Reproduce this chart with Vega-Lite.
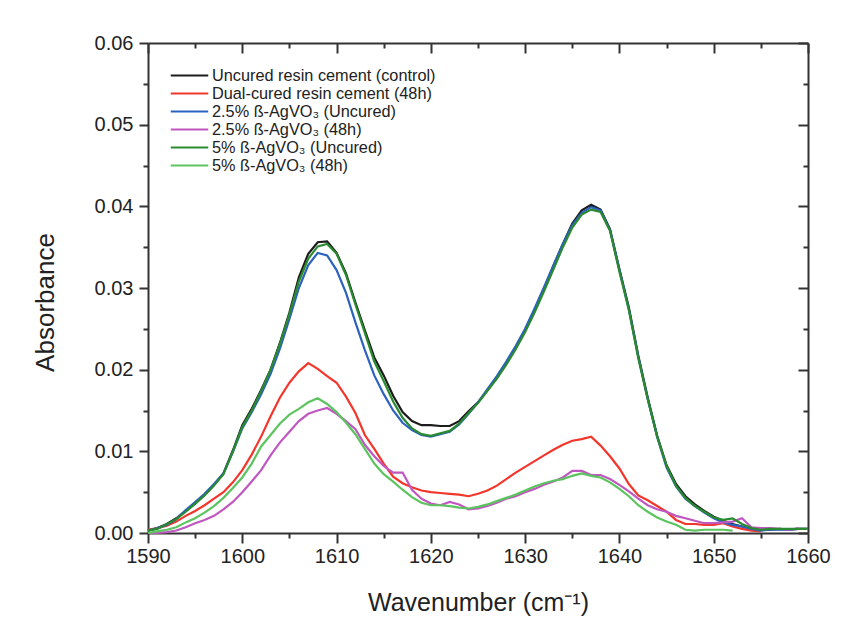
{
  "$schema": "https://vega.github.io/schema/vega-lite/v6.json",
  "width": 660,
  "height": 490,
  "autosize": {"type": "none"},
  "padding": {"left": 148, "top": 43, "right": 58, "bottom": 96},
  "background": "white",
  "config": {
    "view": {"stroke": null},
    "font": "Liberation Sans",
    "axis": {"grid": false, "labelFlush": false, "domainColor": "#333", "domainWidth": 2, "tickColor": "#333", "tickWidth": 2, "labelColor": "#222", "titleColor": "#222", "labelFont": "Liberation Sans", "titleFont": "Liberation Sans", "titleFontWeight": "normal"},
    "legend": {"labelFont": "Liberation Sans"}
  },
  "data": {"values": [
    {"w":1590,"k":0.0003,"r":0.0004,"b":0.0003,"m":0.0000,"g":0.0003,"l":0.0000},
    {"w":1591,"k":0.0006,"r":0.0006,"b":0.0006,"m":0.0000,"g":0.0005,"l":0.0002},
    {"w":1592,"k":0.0011,"r":0.0009,"b":0.0010,"m":0.0001,"g":0.0011,"l":0.0004},
    {"w":1593,"k":0.0018,"r":0.0014,"b":0.0017,"m":0.0003,"g":0.0017,"l":0.0007},
    {"w":1594,"k":0.0027,"r":0.0021,"b":0.0028,"m":0.0007,"g":0.0026,"l":0.0013},
    {"w":1595,"k":0.0036,"r":0.0027,"b":0.0038,"m":0.0012,"g":0.0036,"l":0.0018},
    {"w":1596,"k":0.0047,"r":0.0034,"b":0.0048,"m":0.0016,"g":0.0046,"l":0.0025},
    {"w":1597,"k":0.0059,"r":0.0042,"b":0.0060,"m":0.0021,"g":0.0058,"l":0.0033},
    {"w":1598,"k":0.0073,"r":0.0050,"b":0.0073,"m":0.0029,"g":0.0072,"l":0.0043},
    {"w":1599,"k":0.0101,"r":0.0062,"b":0.0099,"m":0.0038,"g":0.0100,"l":0.0055},
    {"w":1600,"k":0.0132,"r":0.0077,"b":0.0128,"m":0.0050,"g":0.0130,"l":0.0068},
    {"w":1601,"k":0.0152,"r":0.0096,"b":0.0148,"m":0.0063,"g":0.0150,"l":0.0085},
    {"w":1602,"k":0.0175,"r":0.0118,"b":0.0170,"m":0.0077,"g":0.0174,"l":0.0106},
    {"w":1603,"k":0.0200,"r":0.0143,"b":0.0195,"m":0.0095,"g":0.0200,"l":0.0120},
    {"w":1604,"k":0.0233,"r":0.0166,"b":0.0226,"m":0.0111,"g":0.0232,"l":0.0134},
    {"w":1605,"k":0.0270,"r":0.0184,"b":0.0262,"m":0.0124,"g":0.0268,"l":0.0145},
    {"w":1606,"k":0.0313,"r":0.0198,"b":0.0300,"m":0.0137,"g":0.0308,"l":0.0152},
    {"w":1607,"k":0.0342,"r":0.0208,"b":0.0328,"m":0.0146,"g":0.0336,"l":0.0160},
    {"w":1608,"k":0.0356,"r":0.0201,"b":0.0343,"m":0.0150,"g":0.0351,"l":0.0165},
    {"w":1609,"k":0.0357,"r":0.0192,"b":0.0340,"m":0.0153,"g":0.0354,"l":0.0158},
    {"w":1610,"k":0.0343,"r":0.0184,"b":0.0322,"m":0.0146,"g":0.0342,"l":0.0148},
    {"w":1611,"k":0.0318,"r":0.0167,"b":0.0294,"m":0.0137,"g":0.0316,"l":0.0135},
    {"w":1612,"k":0.0282,"r":0.0147,"b":0.0258,"m":0.0127,"g":0.0280,"l":0.0121},
    {"w":1613,"k":0.0248,"r":0.0120,"b":0.0224,"m":0.0108,"g":0.0245,"l":0.0103},
    {"w":1614,"k":0.0215,"r":0.0103,"b":0.0193,"m":0.0094,"g":0.0210,"l":0.0085},
    {"w":1615,"k":0.0193,"r":0.0085,"b":0.0170,"m":0.0082,"g":0.0186,"l":0.0072},
    {"w":1616,"k":0.0168,"r":0.0069,"b":0.0150,"m":0.0074,"g":0.0161,"l":0.0063},
    {"w":1617,"k":0.0148,"r":0.0061,"b":0.0135,"m":0.0074,"g":0.0141,"l":0.0053},
    {"w":1618,"k":0.0137,"r":0.0056,"b":0.0126,"m":0.0053,"g":0.0128,"l":0.0044},
    {"w":1619,"k":0.0132,"r":0.0052,"b":0.0120,"m":0.0042,"g":0.0121,"l":0.0037},
    {"w":1620,"k":0.0132,"r":0.0050,"b":0.0118,"m":0.0036,"g":0.0119,"l":0.0034},
    {"w":1621,"k":0.0131,"r":0.0049,"b":0.0121,"m":0.0034,"g":0.0122,"l":0.0034},
    {"w":1622,"k":0.0131,"r":0.0048,"b":0.0124,"m":0.0038,"g":0.0125,"l":0.0033},
    {"w":1623,"k":0.0137,"r":0.0047,"b":0.0133,"m":0.0035,"g":0.0134,"l":0.0031},
    {"w":1624,"k":0.0149,"r":0.0045,"b":0.0146,"m":0.0029,"g":0.0147,"l":0.0030},
    {"w":1625,"k":0.0160,"r":0.0048,"b":0.0160,"m":0.0030,"g":0.0159,"l":0.0032},
    {"w":1626,"k":0.0175,"r":0.0052,"b":0.0176,"m":0.0033,"g":0.0174,"l":0.0035},
    {"w":1627,"k":0.0190,"r":0.0058,"b":0.0192,"m":0.0037,"g":0.0189,"l":0.0039},
    {"w":1628,"k":0.0208,"r":0.0066,"b":0.0210,"m":0.0042,"g":0.0206,"l":0.0043},
    {"w":1629,"k":0.0227,"r":0.0074,"b":0.0229,"m":0.0045,"g":0.0225,"l":0.0047},
    {"w":1630,"k":0.0249,"r":0.0081,"b":0.0250,"m":0.0050,"g":0.0246,"l":0.0052},
    {"w":1631,"k":0.0273,"r":0.0088,"b":0.0275,"m":0.0054,"g":0.0270,"l":0.0057},
    {"w":1632,"k":0.0299,"r":0.0095,"b":0.0301,"m":0.0059,"g":0.0296,"l":0.0061},
    {"w":1633,"k":0.0327,"r":0.0102,"b":0.0328,"m":0.0063,"g":0.0323,"l":0.0064},
    {"w":1634,"k":0.0354,"r":0.0108,"b":0.0354,"m":0.0068,"g":0.0350,"l":0.0066},
    {"w":1635,"k":0.0379,"r":0.0113,"b":0.0377,"m":0.0076,"g":0.0374,"l":0.0070},
    {"w":1636,"k":0.0395,"r":0.0115,"b":0.0392,"m":0.0076,"g":0.0390,"l":0.0073},
    {"w":1637,"k":0.0402,"r":0.0118,"b":0.0399,"m":0.0071,"g":0.0396,"l":0.0070},
    {"w":1638,"k":0.0396,"r":0.0107,"b":0.0395,"m":0.0071,"g":0.0393,"l":0.0068},
    {"w":1639,"k":0.0372,"r":0.0094,"b":0.0371,"m":0.0066,"g":0.0370,"l":0.0062},
    {"w":1640,"k":0.0323,"r":0.0079,"b":0.0322,"m":0.0059,"g":0.0320,"l":0.0054},
    {"w":1641,"k":0.0276,"r":0.0060,"b":0.0274,"m":0.0051,"g":0.0273,"l":0.0045},
    {"w":1642,"k":0.0217,"r":0.0046,"b":0.0216,"m":0.0042,"g":0.0214,"l":0.0034},
    {"w":1643,"k":0.0166,"r":0.0040,"b":0.0164,"m":0.0034,"g":0.0164,"l":0.0026},
    {"w":1644,"k":0.0119,"r":0.0033,"b":0.0118,"m":0.0029,"g":0.0118,"l":0.0019},
    {"w":1645,"k":0.0083,"r":0.0026,"b":0.0080,"m":0.0026,"g":0.0082,"l":0.0014},
    {"w":1646,"k":0.0060,"r":0.0016,"b":0.0057,"m":0.0021,"g":0.0058,"l":0.0010},
    {"w":1647,"k":0.0045,"r":0.0011,"b":0.0042,"m":0.0018,"g":0.0043,"l":0.0004},
    {"w":1648,"k":0.0035,"r":0.0011,"b":0.0033,"m":0.0015,"g":0.0033,"l":0.0003},
    {"w":1649,"k":0.0027,"r":0.0010,"b":0.0025,"m":0.0012,"g":0.0026,"l":0.0004},
    {"w":1650,"k":0.0020,"r":0.0010,"b":0.0018,"m":0.0012,"g":0.0019,"l":0.0004},
    {"w":1651,"k":0.0015,"r":0.0012,"b":0.0013,"m":0.0013,"g":0.0016,"l":0.0004},
    {"w":1652,"k":0.0011,"r":0.0008,"b":0.0010,"m":0.0014,"g":0.0018,"l":0.0003},
    {"w":1653,"k":0.0008,"r":0.0005,"b":0.0008,"m":0.0018,"g":0.0011},
    {"w":1654,"k":0.0005,"r":0.0003,"b":0.0005,"m":0.0007,"g":0.0006},
    {"w":1655,"k":0.0004,"r":0.0002,"b":0.0003,"m":0.0006,"g":0.0004},
    {"w":1656,"k":0.0004,"b":0.0004,"m":0.0006,"g":0.0005},
    {"w":1657,"k":0.0005,"b":0.0004,"m":0.0005,"g":0.0005},
    {"w":1658,"k":0.0004,"b":0.0004,"m":0.0004,"g":0.0005},
    {"w":1659,"k":0.0005,"b":0.0005,"m":0.0006,"g":0.0005},
    {"w":1660,"k":0.0005,"b":0.0005,"g":0.0005}
  ]},
  "transform": [{"fold": ["k", "r", "b", "m", "g", "l"], "as": ["s", "a"]}],
  "layer": [
    {
      "mark": {"type": "line", "strokeWidth": 2.2},
      "encoding": {
        "x": {"field": "w", "type": "quantitative", "scale": {"domain": [1590, 1660], "nice": false, "zero": false},
          "axis": {"orient": "bottom", "values": [1590, 1600, 1610, 1620, 1630, 1640, 1650, 1660], "format": "d", "tickSize": 10, "labelPadding": 3, "labelFontSize": 20, "title": "Wavenumber (cm⁻¹)", "titleFontSize": 25, "titlePadding": 24}},
        "y": {"field": "a", "type": "quantitative", "scale": {"domain": [0, 0.06], "nice": false, "zero": false},
          "axis": {"orient": "left", "values": [0, 0.01, 0.02, 0.03, 0.04, 0.05, 0.06], "format": ".2f", "tickSize": 9, "labelPadding": 6, "labelFontSize": 20, "title": "Absorbance", "titleFontSize": 26, "titlePadding": 36, "titleY": 259}},
        "color": {"field": "s", "type": "nominal",
          "scale": {"domain": ["k", "r", "b", "m", "g", "l"], "range": ["#1c1c1c", "#f2362b", "#2c62bf", "#c057c0", "#2a8a30", "#5cc45e"]},
          "legend": {"orient": "none", "legendX": 33, "legendY": 24, "title": null, "padding": 0,
            "symbolType": "M-2.5,0H2.5", "symbolSize": 225, "symbolStrokeWidth": 2,
            "labelFontSize": 16.3, "labelOffset": 14, "rowPadding": 1, "labelColor": "#222", "labelLimit": 500,
            "labelExpr": "datum.value == 'k' ? 'Uncured resin cement (control)' : datum.value == 'r' ? 'Dual-cured resin cement (48h)' : datum.value == 'b' ? '2.5% ß-AgVO₃ (Uncured)' : datum.value == 'm' ? '2.5% ß-AgVO₃ (48h)' : datum.value == 'g' ? '5% ß-AgVO₃ (Uncured)' : '5% ß-AgVO₃ (48h)'"}}
      }
    },
    {
      "mark": {"type": "line", "strokeOpacity": 0},
      "encoding": {
        "x": {"field": "w", "type": "quantitative", "scale": {"domain": [1590, 1660], "nice": false, "zero": false}, "axis": {"orient": "bottom", "values": [1595, 1605, 1615, 1625, 1635, 1645, 1655], "tickSize": 5, "labels": false, "domain": false, "title": null}},
        "y": {"field": "a", "type": "quantitative", "scale": {"domain": [0, 0.06], "nice": false, "zero": false}, "axis": {"orient": "left", "values": [0.005, 0.015, 0.025, 0.035, 0.045, 0.055], "tickSize": 5, "labels": false, "domain": false, "title": null}}
      }
    },
    {
      "mark": {"type": "line", "strokeOpacity": 0},
      "encoding": {
        "x": {"field": "w", "type": "quantitative", "scale": {"domain": [1590, 1660], "nice": false, "zero": false}, "axis": {"orient": "top", "values": [1590, 1600, 1610, 1620, 1630, 1640, 1650, 1660], "tickSize": -10, "labels": false, "title": null}},
        "y": {"field": "a", "type": "quantitative", "scale": {"domain": [0, 0.06], "nice": false, "zero": false}, "axis": {"orient": "right", "values": [0, 0.01, 0.02, 0.03, 0.04, 0.05, 0.06], "tickSize": -10, "labels": false, "title": null}}
      }
    },
    {
      "mark": {"type": "line", "strokeOpacity": 0},
      "encoding": {
        "x": {"field": "w", "type": "quantitative", "scale": {"domain": [1590, 1660], "nice": false, "zero": false}, "axis": {"orient": "top", "values": [1595, 1605, 1615, 1625, 1635, 1645, 1655], "tickSize": -5, "labels": false, "domain": false, "title": null}},
        "y": {"field": "a", "type": "quantitative", "scale": {"domain": [0, 0.06], "nice": false, "zero": false}, "axis": {"orient": "right", "values": [0.005, 0.015, 0.025, 0.035, 0.045, 0.055], "tickSize": -5, "labels": false, "domain": false, "title": null}}
      }
    }
  ],
  "resolve": {"axis": {"x": "independent", "y": "independent"}}
}
